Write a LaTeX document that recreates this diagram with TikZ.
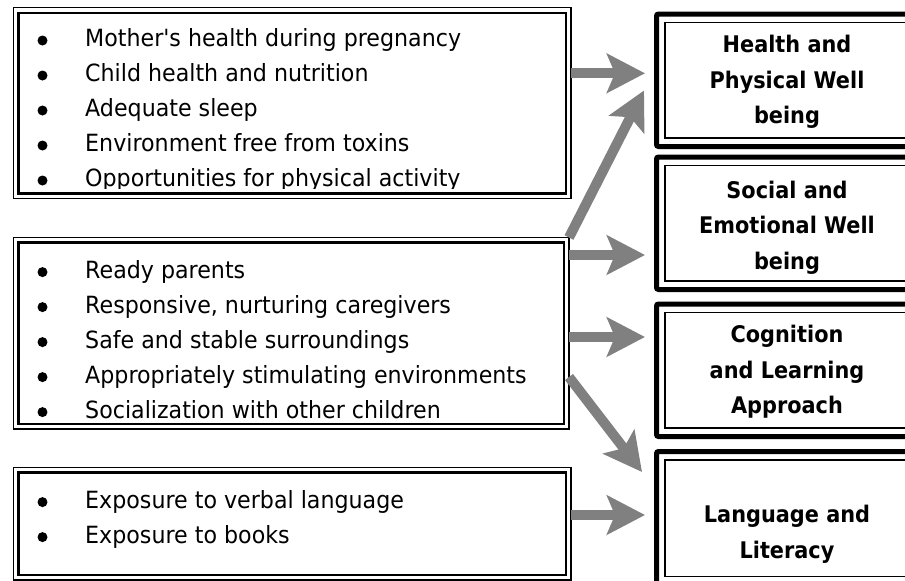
\documentclass[tikz,border=0pt]{standalone}
\usepackage{fontspec}
\usetikzlibrary{arrows.meta}
\newfontfamily\listfont{DejaVu Sans}[FakeStretch=0.935]
\newfontfamily\headfont{DejaVu Sans}[FakeStretch=0.91]
\definecolor{arrowgray}{RGB}{128,128,128}
\tikzset{
  lbox/.style={draw=black, line width=1.3pt, rectangle, inner sep=0pt, outer sep=0pt},
  linner/.style={draw=black, line width=2.5pt},
  rbox/.style={draw=black, line width=5pt, rounded corners=2pt, rectangle, inner sep=0pt, outer sep=0pt},
  rinner/.style={draw=black, line width=1.5pt},
  arr/.style={draw=arrowgray, line width=10pt, -{Stealth[length=38pt,width=39pt,inset=8pt]}},
  ltext/.style={anchor=base west, inner sep=0pt, font=\listfont\fontsize{23.7}{35}\selectfont},
  htext/.style={anchor=base, inner sep=0pt, font=\headfont\bfseries\fontsize{22.9}{35.5}\selectfont},
}
\begin{document}
\begin{tikzpicture}[x=1pt,y=-1pt]
\useasboundingbox (0,0) rectangle (905,581);
\clip (0,0) rectangle (905,581);

% left boxes
\node[lbox, minimum width=557.5pt, minimum height=190.5pt] (A) at (292.25,103) {};
\draw[linner] ([shift={(5pt,-5pt)}]A.north west) rectangle ([shift={(-5pt,5pt)}]A.south east);
\node[lbox, minimum width=555.5pt, minimum height=191.5pt] (B) at (291.25,333.25) {};
\draw[linner] ([shift={(5pt,-5pt)}]B.north west) rectangle ([shift={(-5pt,5pt)}]B.south east);
\node[lbox, minimum width=557.5pt, minimum height=112.5pt] (C) at (292.25,523.75) {};
\draw[linner] ([shift={(5pt,-5pt)}]C.north west) rectangle ([shift={(-5pt,5pt)}]C.south east);

% right boxes
\node[rbox, minimum width=263.5pt, minimum height=132.5pt] (H1) at (788.25,80.25) {};
\draw[rinner] ([shift={(8.5pt,-8.5pt)}]H1.north west) rectangle ([shift={(-8.5pt,8.5pt)}]H1.south east);
\node[rbox, minimum width=263.5pt, minimum height=132.5pt] (H2) at (788.25,223.25) {};
\draw[rinner] ([shift={(8.5pt,-8.5pt)}]H2.north west) rectangle ([shift={(-8.5pt,8.5pt)}]H2.south east);
\node[rbox, minimum width=263.5pt, minimum height=132.5pt] (H3) at (788.25,370.25) {};
\draw[rinner] ([shift={(8.5pt,-8.5pt)}]H3.north west) rectangle ([shift={(-8.5pt,8.5pt)}]H3.south east);
\node[rbox, minimum width=263.5pt, minimum height=133.5pt] (H4) at (788.25,518.25) {};
\draw[rinner] ([shift={(8.5pt,-8.5pt)}]H4.north west) rectangle ([shift={(-8.5pt,8.5pt)}]H4.south east);

% left texts
\begin{scope}
\clip (18.5,12.5) rectangle (566,188.5);
\node[ltext] (ta) at (85,46.7) {\begin{tabular}[t]{@{}l@{}}Mother's health during pregnancy\\Child health and nutrition\\Adequate sleep\\Environment free from toxins\\Opportunities for physical activity\end{tabular}};
\end{scope}
\node[ltext] (tb) at (85,278.3) {\begin{tabular}[t]{@{}l@{}}Ready parents\\Responsive, nurturing caregivers\\Safe and stable surroundings\\Appropriately stimulating environments\\Socialization with other children\end{tabular}};
\node[ltext] (tc) at (85,508.3) {\begin{tabular}[t]{@{}l@{}}Exposure to verbal language\\Exposure to books\end{tabular}};

% bullets
\foreach \y in {46.7,81.7,116.7,151.7,186.7,278.3,313.3,348.3,383.3,418.3,508.3,543.3}
  \fill (42.5,{\y-6.2}) circle (5pt);

% right texts
\node[htext] (h1) at (787,52.7) {\begin{tabular}[t]{@{}c@{}}Health and\\Physical Well\\being\end{tabular}};
\node[htext] (h2) at (787,198.4) {\begin{tabular}[t]{@{}c@{}}Social and\\Emotional Well\\being\end{tabular}};
\node[htext] (h3) at (787,342.7) {\begin{tabular}[t]{@{}c@{}}Cognition\\and Learning\\Approach\end{tabular}};
\node[htext] (h4) at (787,522.7) {\begin{tabular}[t]{@{}c@{}}Language and\\Literacy\end{tabular}};

% arrows
\coordinate (t1) at (645,73.3);
\coordinate (t2) at (644,90.5);
\coordinate (t3) at (645,255);
\coordinate (t4) at (645,337);
\coordinate (t5) at (642,472);
\coordinate (t6) at (645,515);
\draw[arr] (A.east |- t1) -- (t1);
\draw[arr] (B.north east) -- (t2);
\draw[arr] (B.east |- t3) -- (t3);
\draw[arr] (B.east |- t4) -- (t4);
\draw[arr] ([yshift=-43.75pt]B.east) -- (t5);
\draw[arr] (C.east |- t6) -- (t6);
\end{tikzpicture}
\end{document}
